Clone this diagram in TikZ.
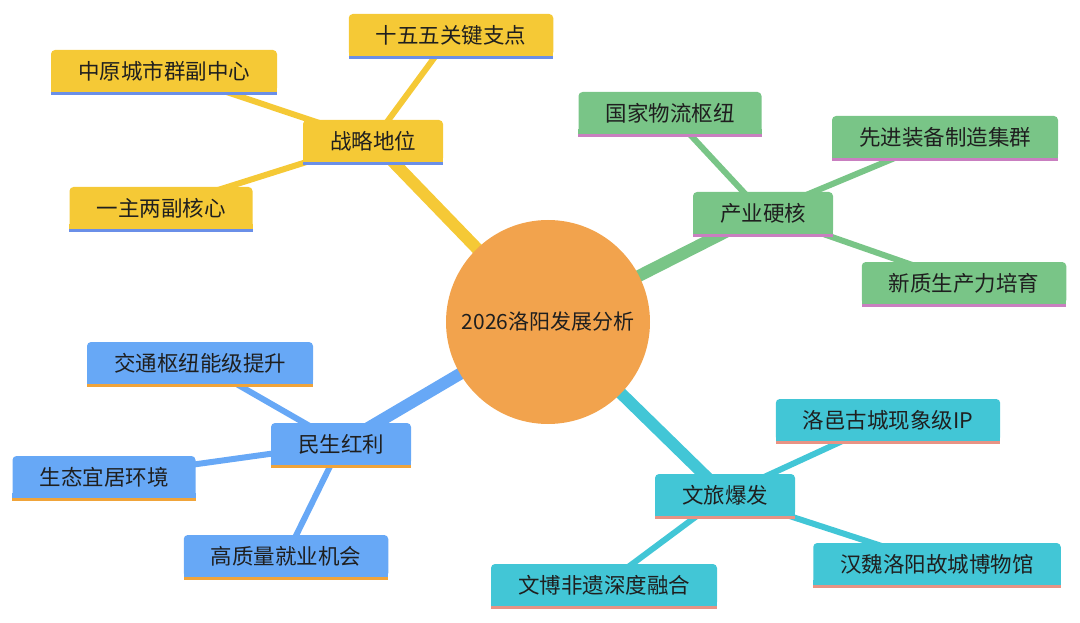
\documentclass[tikz,border=0pt]{standalone}
\usepackage{fontspec}
\setmainfont{Noto Sans CJK SC}
\usetikzlibrary{backgrounds}

\definecolor{rootC}{HTML}{F2A34D}
\definecolor{yelC}{HTML}{F5C936}
\definecolor{yelL}{HTML}{6A8FE8}
\definecolor{grnC}{HTML}{79C587}
\definecolor{grnL}{HTML}{C97FC0}
\definecolor{cyaC}{HTML}{42C6D6}
\definecolor{cyaL}{HTML}{E89384}
\definecolor{bluC}{HTML}{67A8F6}
\definecolor{bluL}{HTML}{F0A43A}

\begin{document}
\begin{tikzpicture}[
    x=1pt, y=-1pt,
    topic/.style={
        rounded corners=4pt,
        inner xsep=27pt,
        inner ysep=0pt,
        minimum height=42pt,
        text=black!88,
        font=\fontsize{21.5}{25}\selectfont
    },
    yel/.style={topic, fill=yelC},
    grn/.style={topic, fill=grnC},
    cya/.style={topic, fill=cyaC},
    blu/.style={topic, fill=bluC},
    main/.style={line width=12pt},
    sub/.style={line width=6pt}
]
    \useasboundingbox (0,0) rectangle (1080,623);

    \node[circle, fill=rootC, minimum size=204pt, inner sep=0pt, text=black!88,
          font=\fontsize{21}{25}\selectfont] (root) at (548,322) {2026洛阳发展分析};

    % 战略地位
    \node[yel] (zl) at (373,141) {战略地位};
    \node[yel] (zl1) at (451,35) {十五五关键支点};
    \node[yel] (zl2) at (164,71) {中原城市群副中心};
    \node[yel] (zl3) at (161,208) {一主两副核心};

    % 产业硬核
    \node[grn] (cy) at (763,213) {产业硬核};
    \node[grn] (cy1) at (670,113) {国家物流枢纽};
    \node[grn] (cy2) at (945,137) {先进装备制造集群};
    \node[grn] (cy3) at (964,283) {新质生产力培育};

    % 文旅爆发
    \node[cya] (wl) at (725,495) {文旅爆发};
    \node[cya] (wl1) at (888,420) {洛邑古城现象级IP};
    \node[cya] (wl2) at (937,564) {汉魏洛阳故城博物馆};
    \node[cya] (wl3) at (604,585) {文博非遗深度融合};

    % 民生红利
    \node[blu] (ms) at (341,444) {民生红利};
    \node[blu] (ms1) at (200,363) {交通枢纽能级提升};
    \node[blu] (ms2) at (104,477) {生态宜居环境};
    \node[blu] (ms3) at (286,556) {高质量就业机会};

    % square bottoms and underlines
    \foreach \n/\f/\u in {zl/yelC/yelL, zl1/yelC/yelL, zl2/yelC/yelL, zl3/yelC/yelL,
                          cy/grnC/grnL, cy1/grnC/grnL, cy2/grnC/grnL, cy3/grnC/grnL,
                          wl/cyaC/cyaL, wl1/cyaC/cyaL, wl2/cyaC/cyaL, wl3/cyaC/cyaL,
                          ms/bluC/bluL, ms1/bluC/bluL, ms2/bluC/bluL, ms3/bluC/bluL} {
        \fill[\f] ([yshift=5pt]\n.south west) rectangle (\n.south east);
        \fill[\u] (\n.south west) rectangle ([yshift=-3pt]\n.south east);
    }

    \begin{pgfonlayer}{background}
        \draw[main, yelC] (root.center) -- (zl.center);
        \draw[main, grnC] (root.center) -- (cy.center);
        \draw[main, cyaC] (root.center) -- (wl.center);
        \draw[main, bluC] (root.center) -- (ms.center);

        \foreach \p/\c in {zl/yelC, cy/grnC, wl/cyaC, ms/bluC}
            \foreach \k in {1,2,3}
                \draw[sub, \c] (\p.center) -- (\p\k.center);
    \end{pgfonlayer}
\end{tikzpicture}
\end{document}
